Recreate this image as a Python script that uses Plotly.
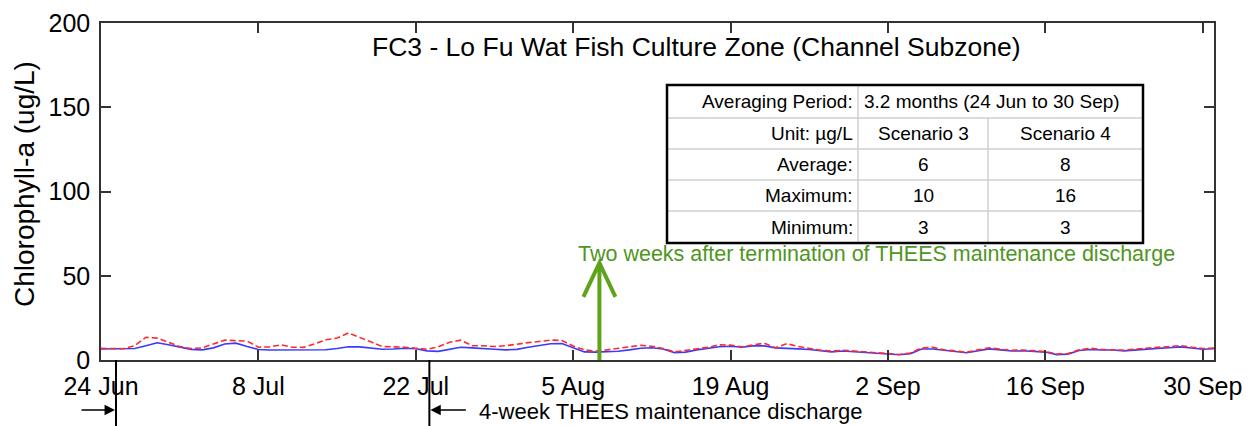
import pandas as pd
import plotly.graph_objects as go

# ---------------- data ----------------
start_date = "2023-06-24"
scenario3 = [6.5, 6.5, 6.4, 6.8, 8.5, 10.2, 9.0, 7.6, 6.3, 6.0,
             7.2, 9.5, 10.0, 8.0, 6.2, 5.9, 5.9, 5.9, 5.8, 6.0,
             6.1, 6.8, 7.9, 7.8, 6.9, 6.4, 6.5, 7.0, 6.7, 5.4,
             5.1, 6.2, 7.6, 7.2, 6.6, 6.4, 6.0, 6.3, 7.6, 8.6,
             9.6, 9.8, 7.5, 4.8, 4.7, 4.9, 5.2, 6.0, 7.0, 7.3,
             6.5, 4.4, 4.7, 6.0, 6.8, 7.9, 8.2, 7.6, 8.4, 8.4,
             7.2, 6.7, 6.6, 6.2, 5.3, 4.8, 5.3, 4.9, 4.5, 4.2,
             3.6, 3.1, 3.8, 6.5, 6.5, 5.6, 5.0, 4.3, 5.4, 6.6,
             6.0, 5.3, 5.5, 5.3, 4.7, 3.2, 3.5, 5.6, 6.2, 5.9,
             5.9, 5.4, 6.0, 6.6, 6.9, 7.3, 7.8, 7.1, 6.4, 6.7]
scenario4 = [6.9, 6.9, 6.7, 8.5, 13.5, 13.0, 10.5, 8.0, 6.8, 7.2,
             9.5, 11.8, 11.5, 11.2, 7.6, 7.8, 9.0, 7.6, 7.5, 9.5,
             12.0, 13.0, 16.0, 13.5, 10.8, 8.0, 7.9, 7.6, 7.0, 6.4,
             7.8, 10.5, 11.8, 8.5, 8.5, 8.0, 8.5, 9.5, 10.3, 11.0,
             11.8, 11.6, 8.3, 6.0, 5.3, 6.0, 6.8, 8.0, 8.7, 8.2,
             6.8, 4.8, 5.8, 6.4, 7.5, 9.0, 8.8, 7.8, 8.8, 10.0,
             7.2, 9.7, 8.0, 6.8, 5.8, 5.3, 5.8, 5.3, 4.8, 4.4,
             3.9, 3.3, 4.2, 7.2, 7.5, 6.0, 5.4, 4.6, 6.0, 7.2,
             6.4, 5.8, 5.9, 5.6, 5.0, 3.6, 3.8, 6.0, 7.0, 6.3,
             6.2, 5.8, 6.5, 7.0, 7.4, 8.0, 8.5, 7.6, 6.8, 7.1]
dates = pd.date_range(start_date, periods=len(scenario3), freq="D")

x_range = ["2023-06-24", "2023-10-01"]
tick_start = "2023-06-24"
y_ticks = [0, 50, 100, 150, 200]

discharge_start = "2023-06-25 08:00"
discharge_end = "2023-07-23 05:00"
two_weeks_after = "2023-08-07 08:00"
arrow_tip_value = 57.6

chart_title = "FC3 - Lo Fu Wat Fish Culture Zone (Channel Subzone)"
y_title = "Chlorophyll-a (ug/L)"
green_note = "Two weeks after termination of THEES maintenance discharge"
black_note = "4-week THEES maintenance discharge"

table_labels = ["Averaging Period:", "Unit: µg/L", "Average:", "Maximum:", "Minimum:"]
period_text = "3.2 months (24 Jun to 30 Sep)"
scenario_names = ["Scenario 3", "Scenario 4"]
avg_vals = [6, 8]
max_vals = [10, 16]
min_vals = [3, 3]

# ---------------- layout helpers ----------------
# The page body has an 8px margin, so the figure is drawn 8px smaller and the
# reference pixel positions are measured relative to the plot area.
W, H = 1247, 418
ML, MT = 93, 15
PW, PH = 1113, 337
MR = W - ML - PW
MB = H - MT - PH
REF_L, REF_B = 101, 360          # plot-area left / bottom in reference pixels
FONT = "Liberation Sans, Arial, sans-serif"
GREEN_LINE = "#5FA31B"
GREEN_TEXT = "#4F9622"


def fx(p):
    return (p - REF_L) / PW


def fy(p):
    return (REF_B - p) / PH


fig = go.Figure()
fig.add_trace(go.Scatter(x=dates, y=scenario3, mode="lines", name="Scenario 3",
                         line=dict(color="#3A3AFF", width=1.6), showlegend=False))
fig.add_trace(go.Scatter(x=dates, y=scenario4, mode="lines", name="Scenario 4",
                         line=dict(color="#FF2A2A", width=1.6, dash="6px,3px"), showlegend=False))

shapes = []
annotations = []

# green arrow
shapes.append(dict(type="line", xref="x", yref="y", x0=two_weeks_after, x1=two_weeks_after,
                   y0=0, y1=arrow_tip_value, line=dict(color=GREEN_LINE, width=4)))
shapes.append(dict(type="path", xref="x", yref="y", xsizemode="pixel", ysizemode="pixel",
                   xanchor=two_weeks_after, yanchor=arrow_tip_value,
                   path="M-16,-34 L0,0 L16,-34", line=dict(color=GREEN_LINE, width=4),
                   fillcolor="rgba(0,0,0,0)"))
annotations.append(dict(text=green_note, xref="paper", yref="paper", x=fx(576), y=fy(254),
                        xanchor="left", yanchor="middle", showarrow=False,
                        font=dict(family=FONT, size=21.5, color=GREEN_TEXT)))

# black markers below the axis
for d in (discharge_start, discharge_end):
    shapes.append(dict(type="line", xref="x", yref="paper", ysizemode="pixel", yanchor=0,
                       x0=d, x1=d, y0=0, y1=-66, line=dict(color="black", width=2)))
annotations.append(dict(text="", x=discharge_start, xref="x", y=fy(410), yref="paper",
                        showarrow=True, ax=-36, ay=0, arrowhead=2, arrowsize=1.3,
                        arrowwidth=1.6, arrowcolor="black", standoff=1))
annotations.append(dict(text="", x=discharge_end, xref="x", y=fy(410), yref="paper",
                        showarrow=True, ax=38, ay=0, arrowhead=2, arrowsize=1.3,
                        arrowwidth=1.6, arrowcolor="black", standoff=1))
annotations.append(dict(text=black_note, x=fx(477), xref="paper", y=fy(411), yref="paper",
                        xanchor="left", yanchor="middle", showarrow=False,
                        font=dict(family=FONT, size=22, color="black")))

# title
annotations.append(dict(text=chart_title, xref="paper", yref="paper", x=fx(370), y=fy(47),
                        xanchor="left", yanchor="middle", showarrow=False,
                        font=dict(family=FONT, size=26.5, color="black")))

# y-axis title (placed as rotated text to match the reference position)
annotations.append(dict(text=y_title, xref="paper", yref="paper", x=fx(25), y=fy(184),
                        xanchor="center", yanchor="middle", textangle=-90, showarrow=False,
                        font=dict(family=FONT, size=28, color="black")))

# table
tx = [667, 858, 988, 1143]
ty = [85, 118, 149, 180, 211, 243]
shapes.append(dict(type="rect", xref="paper", yref="paper", x0=fx(tx[0]), x1=fx(tx[3]),
                   y0=fy(ty[0]), y1=fy(ty[-1]), fillcolor="white", line=dict(width=0), layer="above"))
for yy in ty[1:-1]:
    shapes.append(dict(type="line", xref="paper", yref="paper", x0=fx(tx[0]), x1=fx(tx[3]),
                       y0=fy(yy), y1=fy(yy), line=dict(color="#CFCFCF", width=1.5)))
shapes.append(dict(type="line", xref="paper", yref="paper", x0=fx(tx[1]), x1=fx(tx[1]),
                   y0=fy(ty[0]), y1=fy(ty[-1]), line=dict(color="#CFCFCF", width=1.5)))
shapes.append(dict(type="line", xref="paper", yref="paper", x0=fx(tx[2]), x1=fx(tx[2]),
                   y0=fy(ty[1]), y1=fy(ty[-1]), line=dict(color="#CFCFCF", width=1.5)))
shapes.append(dict(type="rect", xref="paper", yref="paper", x0=fx(tx[0]), x1=fx(tx[3]),
                   y0=fy(ty[0]), y1=fy(ty[-1]), line=dict(color="black", width=2.5)))

tfont = dict(family=FONT, size=19, color="black")
for i, lab in enumerate(table_labels):
    yc = fy((ty[i] + ty[i + 1]) / 2)
    annotations.append(dict(text=lab, xref="paper", yref="paper", x=fx(tx[1] - 3), y=yc,
                            xanchor="right", yanchor="middle", showarrow=False, font=tfont))
annotations.append(dict(text=period_text, xref="paper", yref="paper", x=fx(tx[1] + 4),
                        y=fy((ty[0] + ty[1]) / 2), xanchor="left", yanchor="middle",
                        showarrow=False, font=tfont))
rows = [scenario_names, [str(v) for v in avg_vals], [str(v) for v in max_vals],
        [str(v) for v in min_vals]]
for r, vals in enumerate(rows, start=1):
    yc = fy((ty[r] + ty[r + 1]) / 2)
    for c, v in enumerate(vals):
        xc = fx((tx[c + 1] + tx[c + 2]) / 2)
        annotations.append(dict(text=v, xref="paper", yref="paper", x=xc, y=yc,
                                xanchor="center", yanchor="middle", showarrow=False, font=tfont))

axis_common = dict(showline=True, linecolor="#333333", linewidth=1.5, mirror="allticks",
                   ticks="inside", ticklen=10, tickwidth=1.5, tickcolor="#333333",
                   showgrid=False, zeroline=False,
                   tickfont=dict(family=FONT, size=25, color="black"))

fig.update_layout(
    width=W, height=H,
    margin=dict(l=ML, r=MR, t=MT, b=MB, autoexpand=False),
    paper_bgcolor="white", plot_bgcolor="white",
    shapes=shapes, annotations=annotations,
    xaxis=dict(type="date", range=x_range, tick0=tick_start, dtick=14 * 86400000,
               tickformat="%-d %b", ticklabelstandoff=3, **axis_common),
    yaxis=dict(range=[0, 200], tickvals=y_ticks, ticklabelstandoff=4, **axis_common),
)

fig.write_html("out.html")
